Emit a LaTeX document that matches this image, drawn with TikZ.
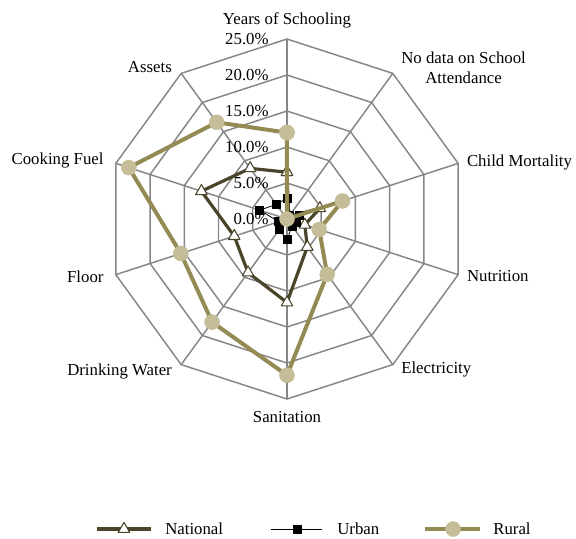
\documentclass[tikz,border=0pt]{standalone}
\usepackage{fontspec}
\setmainfont{Liberation Serif}
\usetikzlibrary{plotmarks}
\definecolor{tandark}{HTML}{4A452A}
\definecolor{tanmid}{HTML}{948A54}
\definecolor{tanlight}{HTML}{C4BD97}
\definecolor{gridgray}{HTML}{868686}

\begin{document}
\begin{tikzpicture}[x=5.4pt, y=5.4pt, font=\fontsize{12.6}{15}\selectfont,
	gridline/.style={gridgray, line width=1.1pt},
	national/.style={tandark, line width=2.4pt, line join=round, mark=triangle*, mark size=5pt, mark options={fill=white, line width=0.8pt}},
	urban/.style={black, line width=0.6pt, line join=round, mark=square*, mark size=3pt},
	rural/.style={tanmid, line width=3pt, line join=round, mark=*, mark size=5.6pt, mark options={fill=tanlight, draw=tanlight, line width=0.4pt}}]
				\useasboundingbox (-39.86,-44.31) rectangle (40.14,30.42);
				
				% Draw web
				\foreach \r in {5,10,...,25}
					\draw[gridline] (90:\r) \foreach \a in {54,18,...,-234} { -- (\a:\r) } -- cycle;
				\foreach \a in {90,54,...,-234}
					\draw[gridline] (0,0) -- (\a:25);
				
				% Scale labels
				\foreach \r in {0,5,...,25}
					\node[anchor=east] (pct\r) at (-1.9,\r) {\r.0\%};
				
				% Axis labels
				\node[anchor=south] (school) at (90:25.8) {Years of Schooling};
				\node[anchor=west, align=center] (attend) at (54:25.9) {No data on School\\Attendance};
				\node[anchor=west] (mort) at (18:25.6) {Child Mortality};
				\node[anchor=west] (nutr) at (-18:25.6) {Nutrition};
				\node[anchor=west] (elec) at (-54:25.9) {Electricity};
				\node[anchor=north] (sani) at (-90:26.1) {Sanitation};
				\node[anchor=east] (water) at (-126:26.1) {Drinking Water};
				\node[anchor=east] (floor) at (-162:26.1) {Floor};
				\node[anchor=east] (fuel) at (162:26.1) {Cooking Fuel};
				\node[anchor=east] (assets) at (126:26.1) {Assets};
				
				% Draw series
				\draw[national] plot coordinates {(90:6.5) (54:0.4) (18:4.8) (-18:2.6) (-54:4.8) (-90:11.6) (-126:9.2) (-162:7.7) (162:12.5) (126:8.7) (90:6.5)};
				\draw[urban] plot coordinates {(90:2.9) (54:0.6) (18:1.8) (-18:1.4) (-54:1.2) (-90:2.9) (-126:1.8) (-162:1.2) (162:4.0) (126:2.5) (90:2.9)};
				\draw[rural] plot coordinates {(90:12.0) (54:0) (18:8.1) (-18:4.7) (-54:9.5) (-90:21.7) (-126:17.7) (-162:15.5) (162:23.1) (126:16.6) (90:12.0)};
				
				% Legend
				\draw[national, mark indices={2}] plot coordinates {(-26.39,-43.06) (-22.64,-43.06) (-18.89,-43.06)};
				\node[anchor=west] (legnational) at (-17.56,-43.06) {National};
				\draw[urban, mark indices={2}] plot coordinates {(-2.22,-43.06) (1.39,-43.06) (4.86,-43.06)};
				\node[anchor=west] (legurban) at (6.33,-43.06) {Urban};
				\draw[rural, mark indices={2}] plot coordinates {(19.17,-43.06) (23.06,-43.06) (26.81,-43.06)};
				\node[anchor=west] (legrural) at (28.0,-43.06) {Rural};
			\end{tikzpicture}
\end{document}
